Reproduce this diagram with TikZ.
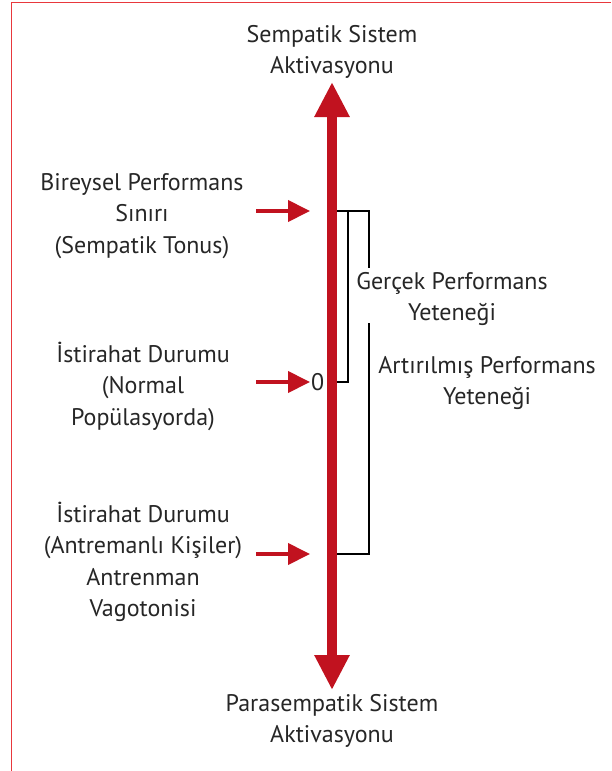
\documentclass[tikz,border=0pt]{standalone}
\usepackage{fontspec}
\setmainfont{PT Sans}
\usetikzlibrary{positioning, arrows.meta, calc}
\definecolor{axisred}{HTML}{C1121F}
\definecolor{framered}{HTML}{E8383D}
\tikzset{label node/.style={align=center, font=\fontsize{24}{31.5}\selectfont, text=black!85, inner sep=0pt},
	side arrow/.style={draw=axisred, line width=4pt, -{Triangle[width=21pt,length=22pt]}},
	bracket line/.style={draw=black, line width=2.4pt},}

\begin{document}
\begin{tikzpicture}[x=1pt, y=-1pt]
	\useasboundingbox (0,0) rectangle (611,771);
	% Frame
	\draw[framered, line width=1pt] (11,771) -- (11,2) -- (611,2);

	% Points
	\coordinate (top) at (332,82);
	\coordinate (bottom) at (332,690);
	\coordinate (limit) at (332,211);
	\coordinate (rest) at (332,382);
	\coordinate (trained) at (332,554);
	\coordinate (limit in) at (256,211);
	\coordinate (rest in) at (256,382);
	\coordinate (trained in) at (256,554);
	\coordinate (limit tip) at (310,211);
	\coordinate (rest tip) at (310,382);
	\coordinate (trained tip) at (310,554);
	\coordinate (inner top) at (348,211);
	\coordinate (inner bottom) at (348,382);
	\coordinate (outer top) at (369,211);
	\coordinate (outer gap a) at (369,268);
	\coordinate (outer gap b) at (369,323);
	\coordinate (outer bottom) at (369,554);

	% Brackets
	\draw[bracket line] (limit) -- (inner top) -- (inner bottom) -- (rest);
	\draw[bracket line] (inner top) -- (outer top) -- (outer gap a);
	\draw[bracket line] (outer gap b) -- (outer bottom) -- (trained);

	% Axis
	\draw[axisred, line width=10pt, {Triangle[width=33pt,length=35pt]}-{Triangle[width=33pt,length=35pt]}] (bottom) -- (top);

	% Labels
	\node[label node, above=3pt of top] (symp) {Sempatik Sistem\\Aktivasyonu};
	\node[label node, below=4pt of bottom] (para) {Parasempatik Sistem\\Aktivasyonu};
	\node[label node] (limit label) at (142,216) {Bireysel Performans\\Sınırı\\(Sempatik Tonus)};
	\node[label node] (rest label) at (143,386) {İstirahat Durumu\\(Normal\\Popülasyorda)};
	\node[label node] (trained label) at (143,562) {İstirahat Durumu\\(Antremanlı Kişiler)\\Antrenman\\Vagotonisi};
	\node[label node] (real) at (452,299) {Gerçek Performans\\Yeteneği};
	\node[label node] (boost) at (487,383) {Artırılmış Performans\\Yeteneği};
	\node[label node, right=1pt of rest tip] (zero) {0};

	% Arrows
	\draw[side arrow] (limit in) -- (limit tip);
	\draw[side arrow] (rest in) -- (rest tip);
	\draw[side arrow] (trained in) -- (trained tip);
\end{tikzpicture}
\end{document}
